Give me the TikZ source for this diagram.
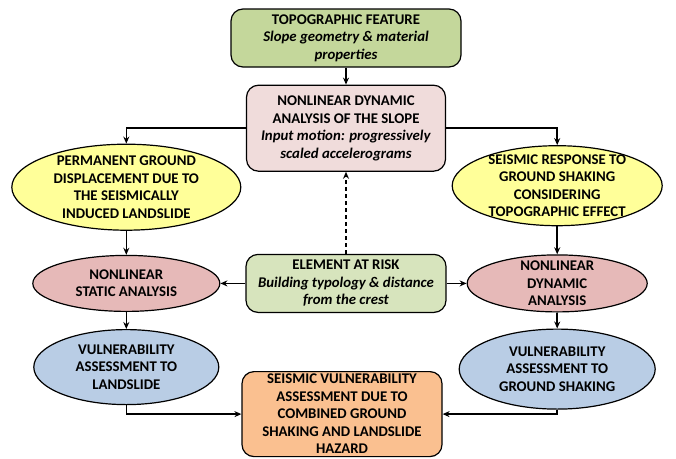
\documentclass[tikz,border=0pt]{standalone}
\usepackage{fontspec}
\setmainfont{Carlito}
\usepackage{xcolor}
\usepackage{tikz}
\usetikzlibrary{arrows.meta,positioning,shapes.geometric}

\definecolor{topogreen}{HTML}{C4D79B}
\definecolor{riskgreen}{HTML}{D7E4BD}
\definecolor{slopepink}{HTML}{F0DCDB}
\definecolor{analpink}{HTML}{E6B9B8}
\definecolor{hazyellow}{HTML}{FFFF99}
\definecolor{vulnblue}{HTML}{B9CDE5}
\definecolor{comboorange}{HTML}{FAC090}

\begin{document}
\begin{tikzpicture}[
  box/.style={draw,rounded corners=12pt,line width=1.2pt,align=center,inner xsep=3pt,inner ysep=1pt,
    font=\bfseries\fontsize{14.8}{17.5}\selectfont},
  oval/.style={draw,ellipse,line width=1.2pt,align=center,inner xsep=-2pt,inner ysep=-4.5pt,
    font=\bfseries\fontsize{14.8}{17.5}\selectfont},
  arr/.style={-{Stealth[length=7pt,width=6pt]},line width=1.6pt},
  dasharr/.style={arr,dash pattern=on 4pt off 3pt}
]
  \useasboundingbox (0,0) rectangle (676pt,-458pt);

  \node[box, fill=topogreen, minimum width=230pt, minimum height=58pt] (topo) at (346pt,-38pt)
    {TOPOGRAPHIC FEATURE\\ \textit{Slope geometry \& material}\\ \textit{properties}};
  \node[box, fill=slopepink, minimum width=199pt, minimum height=86pt, below=17pt of topo] (slope)
    {NONLINEAR DYNAMIC\\ ANALYSIS OF THE SLOPE\\ \textit{Input motion: progressively}\\ \textit{scaled accelerograms}};
  \node[box, fill=riskgreen, minimum width=200pt, minimum height=58pt, below=82pt of slope] (risk)
    {ELEMENT AT RISK\\ \textit{Building typology \& distance}\\ \textit{from the crest}};
  \node[box, fill=comboorange, minimum width=200pt, minimum height=85pt, below=58pt of risk, xshift=-4pt] (combo)
    {SEISMIC VULNERABILITY\\ ASSESSMENT DUE TO\\ COMBINED GROUND\\ SHAKING AND LANDSLIDE\\ HAZARD};

  \node[oval, fill=analpink, minimum width=187pt, minimum height=56pt, left=25pt of risk] (static)
    {NONLINEAR\\ STATIC ANALYSIS};
  \node[oval, fill=analpink, minimum width=180pt, minimum height=57pt, right=20pt of risk] (dynamic)
    {NONLINEAR\\ DYNAMIC\\ ANALYSIS};
  \node[oval, fill=hazyellow, minimum width=229pt, minimum height=86pt, above=24pt of static] (landslide)
    {PERMANENT GROUND\\ DISPLACEMENT DUE TO\\ THE SEISMICALLY\\ INDUCED LANDSLIDE};
  \node[oval, fill=hazyellow, minimum width=210pt, minimum height=80pt, above=28pt of dynamic] (shaking)
    {SEISMIC RESPONSE TO\\ GROUND SHAKING\\ CONSIDERING\\ TOPOGRAPHIC EFFECT};
  \node[oval, fill=vulnblue, minimum width=185pt, minimum height=75pt, below=17pt of static] (vulnls)
    {VULNERABILITY\\ ASSESSMENT TO\\ LANDSLIDE};
  \node[oval, fill=vulnblue, minimum width=196pt, minimum height=80pt, below=16pt of dynamic] (vulngs)
    {VULNERABILITY\\ ASSESSMENT TO\\ GROUND SHAKING};

  \draw[arr] (topo) -- (slope);
  \draw[arr] (slope.west) -| (landslide.north);
  \draw[arr] (slope.east) -| (shaking.north);
  \draw[arr] (landslide) -- (static);
  \draw[arr] (shaking) -- (dynamic);
  \draw[arr] (risk) -- (static);
  \draw[arr] (risk) -- (dynamic);
  \draw[dasharr] (risk) -- (slope);
  \draw[arr] (static) -- (vulnls);
  \draw[arr] (dynamic) -- (vulngs);
  \draw[arr] (vulnls.south) |- (combo.west);
  \draw[arr] (vulngs.south) |- (combo.east);
\end{tikzpicture}
\end{document}
